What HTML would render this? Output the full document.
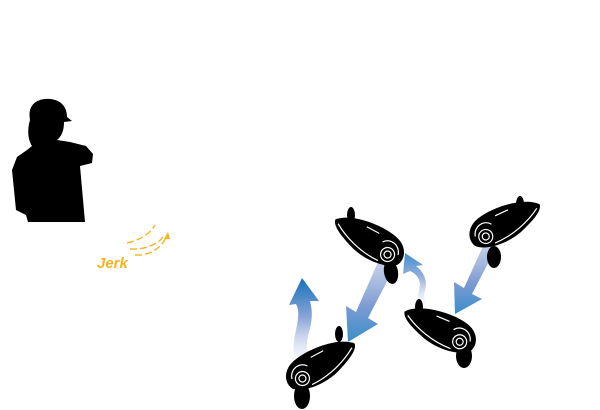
<!DOCTYPE html>
<html><head><meta charset="utf-8"><style>
html,body{margin:0;padding:0;background:#fff;width:600px;height:410px;overflow:hidden}
svg{display:block}
</style></head><body>
<svg width="600" height="410" viewBox="0 0 600 410" xmlns="http://www.w3.org/2000/svg">
<defs>
<linearGradient id="gA" x1="0" y1="0" x2="0" y2="1">
<stop offset="0" stop-color="#aebde2" stop-opacity="0.7"/><stop offset="0.55" stop-color="#7d9bd2"/><stop offset="1" stop-color="#3a8dca"/></linearGradient>
<linearGradient id="gUp" x1="0" y1="1" x2="0" y2="0">
<stop offset="0" stop-color="#e4e9f5" stop-opacity="0.4"/><stop offset="0.5" stop-color="#8da6d8"/><stop offset="1" stop-color="#1570b8"/></linearGradient>
<linearGradient id="gUp2" x1="0" y1="1" x2="0" y2="0">
<stop offset="0" stop-color="#eef1f8" stop-opacity="0.3"/><stop offset="0.5" stop-color="#9fb3dd"/><stop offset="1" stop-color="#3f8fcc"/></linearGradient>
<g id="t">
<path d="M-38,-9 C-24,-22 16,-20 30,-11 C39,-5 41,5 36,12 C26,20 4,19 -12,12 C-26,5 -38,-2 -38,-9 Z" fill="#000"/>
<path d="M-34,-6 C-22,4 -4,13 16,15" stroke="#fff" stroke-width="1.2" fill="none"/>
<path d="M-6,-13 L8,-11" stroke="#fff" stroke-width="1.2"/>
<circle cx="23" cy="6" r="7" fill="#000" stroke="#fff" stroke-width="1.2"/>
<circle cx="23" cy="6" r="3.5" fill="none" stroke="#fff" stroke-width="1.2"/>
<path d="M14,-4 C20,-11 32,-7 33,3" stroke="#fff" stroke-width="1.2" fill="none"/>
</g>
</defs>

<path d="M30,120 C27,104 38,98 50,99 C62,100 67,108 67,117 L72,121 L64,122 C64,130 62,136 57,140 L70,142 L86,146 L93,154 L92,163 L80,166 L85,222 L28,222 L26,215 L16,210 L12,170 L17,157 L27,150 L32,146 C28,140 27,130 30,120 Z" fill="#000"/>

<text x="97" y="268" font-family="Liberation Sans, sans-serif" font-size="15" font-weight="bold" font-style="italic" fill="#f5b324">Jerk</text>
<g stroke="#f5b324" stroke-width="1.4" fill="none" stroke-dasharray="7,3">
<path d="M127,243 C140,240 150,234 155,225"/>
<path d="M130,249 C145,250 158,244 163,237"/>
<path d="M135,255 C150,256 162,248 168,234"/>
</g>
<path d="M168,232 L164,239 L170,239 Z" fill="#f5b324"/>

<path d="M378,262 L394,268 L368,318 L378,324 L348,342 L346,306 L356,312 Z" fill="url(#gA)"/>
<path d="M484,244 L496,248 L472,294 L482,299 L455,314 L454,282 L464,288 Z" fill="url(#gA)"/>
<path d="M294,356 C292,340 297,330 298,318 C299,310 297,306 296,304 L289,305 L302,278 L319,301 L310,301 C313,312 312,322 309,332 C306,342 307,350 307,358 Z" fill="url(#gUp)"/>
<path d="M418,304 C416,294 422,288 419,280 C417,275 414,273 410,271 L403,274 L405,253 L423,265 L416,266 C424,272 428,281 425,291 C423,297 425,302 427,305 Z" fill="url(#gUp2)"/>

<ellipse cx="351" cy="215" rx="4" ry="8" fill="#000"/>
<ellipse cx="391" cy="272" rx="7" ry="12" fill="#000" transform="rotate(-10 391 272)"/>
<use href="#t" transform="translate(368,241) rotate(20)"/>

<ellipse cx="520" cy="204" rx="4" ry="8" fill="#000"/>
<ellipse cx="494" cy="257" rx="7" ry="11" fill="#000"/>
<use href="#t" transform="translate(506,224) rotate(163) scale(1,-1)"/>

<ellipse cx="419" cy="307" rx="4" ry="8" fill="#000"/>
<ellipse cx="464" cy="356" rx="8" ry="12" fill="#000"/>
<use href="#t" transform="translate(439,330) rotate(15)"/>

<ellipse cx="339" cy="334" rx="4" ry="8" fill="#000"/>
<ellipse cx="302" cy="396" rx="8" ry="13" fill="#000"/>
<use href="#t" transform="translate(322,365) rotate(160) scale(1,-1)"/>
</svg>
</body></html>
